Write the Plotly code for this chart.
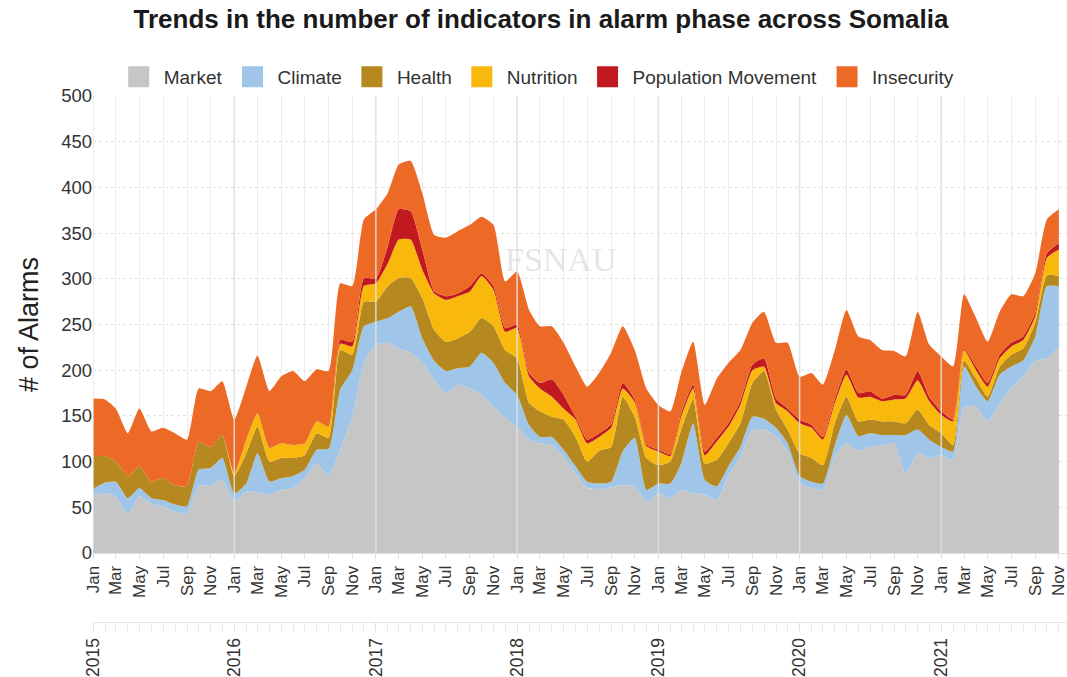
import pandas as pd
import plotly.graph_objects as go

# Monthly data, Jan 2015 - Nov 2021
months = pd.date_range("2015-01-01", periods=83, freq="MS")

market = [64, 65, 62, 42, 62, 54, 51, 45, 43, 73, 74, 80,
          56, 67, 66, 64, 69, 71, 82, 98, 85, 113, 149, 208,
          228, 230, 224, 219, 208, 189, 175, 184, 180, 173, 160, 148,
          138, 124, 120, 118, 106, 87, 71, 70, 72, 74, 73, 56,
          65, 60, 69, 65, 64, 58, 84, 106, 135, 135, 128, 111,
          76, 71, 69, 106, 120, 112, 116, 118, 120, 87, 109, 104,
          107, 102, 160, 160, 144, 164, 180, 193, 210, 213, 226]
climate = [6, 12, 16, 18, 9, 6, 7, 8, 8, 18, 19, 24,
           9, 9, 43, 14, 13, 13, 9, 15, 29, 66, 51, 40,
           25, 27, 40, 51, 27, 21, 24, 18, 24, 46, 48, 38,
           35, 16, 7, 9, 7, 8, 7, 6, 6, 37, 53, 13,
           11, 16, 29, 77, 16, 15, 11, 10, 14, 12, 9, 9,
           8, 7, 7, 12, 31, 16, 15, 11, 9, 42, 26, 20,
           9, 9, 44, 22, 22, 31, 24, 18, 27, 79, 66]
health = [36, 29, 22, 24, 24, 18, 24, 21, 22, 31, 23, 25,
          19, 33, 29, 22, 22, 20, 16, 18, 12, 43, 17, 27,
          22, 35, 37, 31, 44, 34, 32, 33, 38, 38, 40, 36,
          40, 24, 28, 22, 33, 32, 22, 36, 38, 60, 23, 35,
          20, 24, 37, 26, 18, 29, 25, 26, 37, 52, 20, 15,
          25, 26, 20, 24, 20, 16, 15, 15, 15, 13, 22, 16,
          15, 7, 7, 9, 5, 9, 13, 13, 15, 12, 11]
nutrition = [0, 0, 0, 0, 0, 0, 0, 0, 0, 0, 0, 0,
             3, 15, 15, 15, 16, 14, 13, 13, 12, 7, 9, 17,
             20, 25, 42, 42, 31, 40, 46, 46, 44, 46, 40, 20,
             33, 29, 25, 22, 12, 19, 20, 15, 21, 9, 16, 13,
             15, 6, 14, 12, 9, 20, 18, 20, 14, 5, 7, 20,
             33, 33, 28, 22, 24, 26, 25, 22, 24, 27, 32, 26,
             20, 26, 11, 9, 11, 9, 9, 9, 7, 19, 29]
population_movement = [0, 0, 0, 0, 0, 0, 0, 0, 0, 0, 0, 0,
                       0, 0, 0, 0, 0, 0, 0, 0, 0, 4, 5, 9,
                       5, 19, 33, 31, 22, 2, 4, 3, 6, 3, 4, 4,
                       4, 4, 6, 19, 15, 3, 4, 4, 4, 6, 3, 2,
                       2, 2, 4, 4, 4, 4, 4, 4, 6, 9, 5, 3,
                       4, 3, 3, 4, 6, 5, 6, 3, 5, 4, 10, 5,
                       4, 2, 2, 4, 4, 4, 4, 4, 4, 5, 7]
insecurity = [63, 62, 58, 47, 63, 55, 55, 57, 51, 58, 61, 59,
              59, 58, 63, 62, 73, 81, 68, 57, 61, 62, 61, 64,
              76, 58, 49, 55, 62, 62, 64, 68, 67, 62, 67, 51,
              58, 69, 62, 58, 57, 55, 58, 66, 78, 62, 54, 61,
              49, 47, 44, 47, 51, 65, 66, 56, 46, 51, 61, 72,
              47, 57, 57, 54, 65, 62, 56, 53, 48, 42, 65, 57,
              60, 58, 59, 53, 45, 47, 53, 44, 43, 37, 37]

series_names = ["Market", "Climate", "Health", "Nutrition",
                "Population Movement", "Insecurity"]
series_values = [market, climate, health, nutrition,
                 population_movement, insecurity]
series_colors = ["#c6c6c6", "#9fc5e8", "#b5891f", "#f8b90c",
                 "#c1191f", "#ec6a26"]

years = [2015, 2016, 2017, 2018, 2019, 2020, 2021]

FONT = "Liberation Sans, Arial, Helvetica, sans-serif"
x_range = ["2015-01-01", "2021-11-22"]

fig = go.Figure()
for name, vals, color in zip(series_names, series_values, series_colors):
    fig.add_trace(go.Scatter(
        x=months, y=vals, name=name, stackgroup="one", mode="lines",
        line=dict(width=0, color=color, shape="spline", smoothing=0.5),
        fillcolor=color, hoverinfo="x+y+name",
        legendgroup=name, showlegend=False,
    ))

# legend entries with square swatches
for name, color in zip(series_names, series_colors):
    fig.add_trace(go.Scatter(
        x=[None], y=[None], name=name, mode="markers",
        marker=dict(symbol="square", size=16, color=color,
                    line=dict(width=5, color=color)),
        legendgroup=name, showlegend=True, hoverinfo="skip",
    ))

# invisible trace to carry the year axis
fig.add_trace(go.Scatter(x=[months[0], months[-1]], y=[None, None],
                         xaxis="x2", yaxis="y", showlegend=False,
                         hoverinfo="skip", mode="lines"))

# year separators drawn over the areas
for yr in years:
    fig.add_shape(type="line", xref="x", yref="y",
                  x0=f"{yr}-01-01", x1=f"{yr}-01-01", y0=0, y1=500,
                  line=dict(color="rgba(225,225,225,0.9)", width=1.5),
                  layer="above")

# faint watermark
fig.add_annotation(text="FSNAU", xref="paper", yref="paper",
                   x=0.48, y=0.69, xanchor="center", yanchor="middle",
                   showarrow=False,
                   font=dict(family="Liberation Serif, serif", size=34,
                             color="rgba(200,200,200,0.45)"))

fig.update_layout(
    width=1067, height=677,
    margin=dict(l=93, r=0, t=96, b=55, autoexpand=False),
    paper_bgcolor="white", plot_bgcolor="white",
    font=dict(family=FONT, color="#333333"),
    title=dict(text="<b>Trends in the number of indicators in alarm phase across Somalia</b>",
               x=0.507, xanchor="center", xref="container",
               y=1 - 19 / 677, yanchor="middle", yref="container",
               automargin=False,
               font=dict(size=26, color="#1a1a1a", family=FONT)),
    legend=dict(orientation="h", x=0.503, xanchor="center", xref="container",
                y=1 - 77 / 677, yanchor="middle", yref="container",
                font=dict(size=19, color="#333333", family=FONT),
                traceorder="normal", itemwidth=40),
    showlegend=True,
    yaxis=dict(domain=[(622 - 553) / 526, 1], range=[0, 500], dtick=50,
               automargin=False,
               showgrid=True, gridcolor="#e2e2e2", griddash="dot",
               zeroline=False, showline=False,
               tickfont=dict(size=18.5, color="#333333"),
               title=dict(text="# of Alarms", standoff=14,
                          font=dict(size=27, color="#222222"))),
    xaxis=dict(type="date", range=x_range, tick0="2015-01-01", dtick="M2",
               tickformat="%b", tickangle=-90, automargin=False,
               ticklabeloverflow="allow",
               showgrid=True, gridcolor="#ececec", gridwidth=1,
               showline=True, linecolor="#e0e0e0",
               ticks="outside", ticklen=5, tickcolor="#e0e0e0",
               tickfont=dict(size=17, color="#333333")),
    xaxis2=dict(type="date", range=x_range, overlaying="x",
                anchor="free", position=0, side="bottom",
                tick0="2015-01-01", dtick="M12", tickformat="%Y",
                tickangle=-90, showgrid=False, automargin=False,
                ticklabeloverflow="allow",
                showline=True, linecolor="#e6e6e6",
                ticks="outside", ticklen=8, tickcolor="#dddddd",
                minor=dict(dtick="M1", ticks="outside", ticklen=8,
                           tickcolor="#e6e6e6", showgrid=False),
                tickfont=dict(size=17.5, color="#333333")),
)

fig.write_html("out.html", config={"displayModeBar": False},
               post_script="document.body.style.margin='0px';document.body.style.overflow='hidden';")
